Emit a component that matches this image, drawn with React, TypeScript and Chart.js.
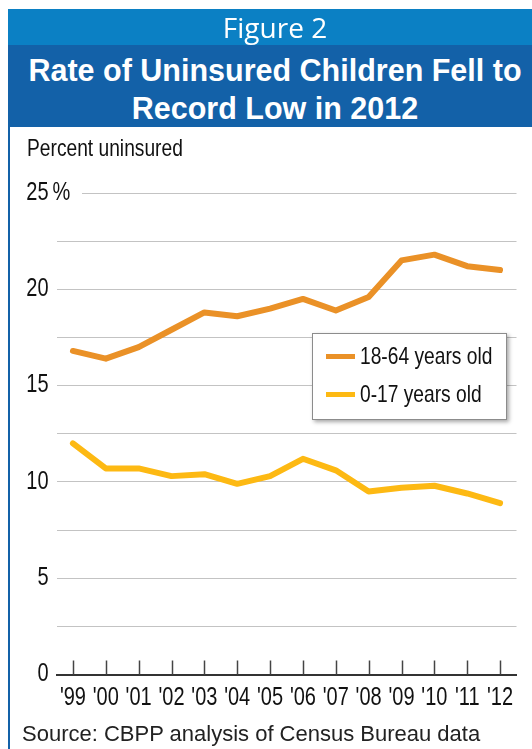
import React, { useEffect, useRef } from "react";
import { Chart, registerables } from "chart.js";

Chart.register(...registerables);

// ---------- data ----------
const years = ["'99", "'00", "'01", "'02", "'03", "'04", "'05", "'06", "'07", "'08", "'09", "'10", "'11", "'12"];
const adults = [16.8, 16.4, 17.0, 17.9, 18.8, 18.6, 19.0, 19.5, 18.9, 19.6, 21.5, 21.8, 21.2, 21.0];
const children = [12.0, 10.7, 10.7, 10.3, 10.4, 9.9, 10.3, 11.2, 10.6, 9.5, 9.7, 9.8, 9.4, 8.9];
const seriesLabels = ["18-64 years old", "0-17 years old"];
const seriesColors = ["#EA9127", "#FDB913"];
const yMin = 0;
const yMax = 25;
const yStep = 2.5;
const yLabelStep = 5;
const figureLabel = "Figure 2";
const titleLines = ["Rate of Uninsured Children Fell to", "Record Low in 2012"];
const axisTitle = "Percent uninsured";
const topTickSuffix = "%";
const sourceText = "Source: CBPP analysis of Census Bureau data";

const SANS = '"Liberation Sans", Arial, sans-serif';
const CONDENSE = 0.8;

function condensedText(ctx: CanvasRenderingContext2D, text: string, x: number, y: number, align: CanvasTextAlign) {
  ctx.save();
  ctx.translate(x, y);
  ctx.scale(CONDENSE, 1);
  ctx.textAlign = align;
  ctx.textBaseline = "middle";
  ctx.fillText(text, 0, 0);
  ctx.restore();
}

export default function App() {
  const canvasRef = useRef<HTMLCanvasElement | null>(null);

  useEffect(() => {
    const canvas = canvasRef.current;
    if (!canvas) return;

    const decor = {
      id: "decor",
      beforeDatasetsDraw(chart: any) {
        const { ctx, chartArea, scales } = chart;
        const x = scales.x;
        const y = scales.y;
        const yTop = y.getPixelForValue(yMax);
        ctx.save();
        // shorten the top grid line to leave room for the % sign
        ctx.fillStyle = "#ffffff";
        ctx.fillRect(chartArea.left - 2, yTop - 2, 82 - chartArea.left + 2, 4);
        // upward tick marks on the x axis
        ctx.strokeStyle = "#444444";
        ctx.lineWidth = 1.5;
        x.ticks.forEach((t: any) => {
          const px = Math.round(x.getPixelForValue(t.value)) + 0.5;
          ctx.beginPath();
          ctx.moveTo(px, chartArea.bottom);
          ctx.lineTo(px, chartArea.bottom - 14);
          ctx.stroke();
        });
        // condensed tick labels placed by the scales
        ctx.fillStyle = "#111111";
        ctx.font = `25px ${SANS}`;
        y.ticks.forEach((t: any) => {
          if (t.value % yLabelStep !== 0) return;
          condensedText(ctx, String(t.value), chartArea.left - 8, y.getPixelForValue(t.value), "right");
        });
        condensedText(ctx, topTickSuffix, chartArea.left - 4, yTop, "left");
        x.ticks.forEach((t: any) => {
          condensedText(ctx, x.getLabelForValue(t.value), x.getPixelForValue(t.value), chartArea.bottom + 24, "center");
        });
        ctx.restore();
      },
    };

    const chart = new Chart(canvas, {
      type: "line",
      data: {
        labels: years,
        datasets: [
          {
            label: seriesLabels[0],
            data: adults,
            borderColor: seriesColors[0],
            backgroundColor: seriesColors[0],
            borderWidth: 6,
            pointRadius: 0,
            tension: 0,
            borderCapStyle: "round",
            borderJoinStyle: "round",
          },
          {
            label: seriesLabels[1],
            data: children,
            borderColor: seriesColors[1],
            backgroundColor: seriesColors[1],
            borderWidth: 6,
            pointRadius: 0,
            tension: 0,
            borderCapStyle: "round",
            borderJoinStyle: "round",
          },
        ],
      },
      options: {
        responsive: false,
        animation: false,
        layout: { padding: { top: 193, right: 15.5, bottom: 29.5, left: 0 } },
        plugins: { legend: { display: false }, tooltip: { enabled: false } },
        scales: {
          x: {
            type: "category",
            offset: true,
            grid: { color: "rgba(0,0,0,0)", drawTicks: false },
            border: { display: true, color: "#333333", width: 2 },
            ticks: { display: false, autoSkip: false, maxRotation: 0 },
            afterFit: (s: any) => {
              s.height = 45;
            },
          },
          y: {
            min: yMin,
            max: yMax,
            grid: {
              drawTicks: false,
              color: (c: any) => (c.tick && c.tick.value === yMin ? "rgba(0,0,0,0)" : "#c3c3c3"),
              lineWidth: 1,
            },
            border: { display: false },
            ticks: { display: false, stepSize: yStep },
            afterFit: (s: any) => {
              s.width = 56.5;
            },
          },
        },
      },
      plugins: [decor],
    });

    return () => chart.destroy();
  }, []);

  const condensedStyle = {
    fontFamily: SANS,
    transform: `scaleX(${CONDENSE})`,
    transformOrigin: "left center",
    whiteSpace: "nowrap" as const,
    color: "#111",
  };

  return (
    <div
      style={{
        position: "absolute",
        left: 0,
        top: 0,
        width: 532,
        height: 749,
        overflow: "hidden",
        background: "#ffffff",
      }}
    >
      <canvas ref={canvasRef} width={532} height={749} style={{ position: "absolute", left: 0, top: 0 }} />
      {/* header */}
      <div
        style={{
          position: "absolute",
          left: 8,
          top: 9,
          width: 534,
          height: 36,
          background: "#0B80C4",
          color: "#fff",
          textAlign: "center",
          fontFamily: '"Open Sans", sans-serif',
          fontSize: 28,
          lineHeight: "36px",
        }}
      >
        {figureLabel}
      </div>
      <div
        style={{
          position: "absolute",
          left: 8,
          top: 45,
          width: 534,
          height: 82,
          background: "#1361A8",
        }}
      >
        <div
          style={{
            position: "absolute",
            left: 0,
            right: 0,
            top: 5.5,
            color: "#fff",
            textAlign: "center",
            fontFamily: SANS,
            fontWeight: "bold",
            fontSize: 30.5,
            lineHeight: "38px",
          }}
        >
          {titleLines.map((t) => (
            <div key={t}>{t}</div>
          ))}
        </div>
      </div>
      {/* left border */}
      <div style={{ position: "absolute", left: 8, top: 127, width: 2, height: 622, background: "#1361A8" }} />
      {/* axis title */}
      <div
        style={{
          ...condensedStyle,
          position: "absolute",
          left: 27,
          top: 136,
          fontSize: 24,
          lineHeight: "24px",
        }}
      >
        {axisTitle}
      </div>
      {/* legend */}
      <div
        style={{
          position: "absolute",
          left: 312,
          top: 333,
          width: 193,
          height: 85,
          border: "1px solid #8c8c8c",
          background: "#fff",
          boxShadow: "2px 2px 4px rgba(0,0,0,0.35)",
        }}
      >
        {seriesLabels.map((lab, i) => (
          <div
            key={lab}
            style={{
              position: "absolute",
              left: 0,
              top: 10 + i * 38,
              height: 24,
              width: 193,
            }}
          >
            <div
              style={{
                position: "absolute",
                left: 13,
                top: 9.5,
                width: 29,
                height: 5,
                background: seriesColors[i],
              }}
            />
            <div
              style={{
                ...condensedStyle,
                position: "absolute",
                left: 47,
                top: 0,
                fontSize: 24,
                lineHeight: "24px",
              }}
            >
              {lab}
            </div>
          </div>
        ))}
      </div>
      {/* source */}
      <div
        style={{
          position: "absolute",
          left: 22,
          top: 723,
          fontFamily: SANS,
          fontSize: 22,
          lineHeight: "22px",
          color: "#222",
          whiteSpace: "nowrap",
        }}
      >
        {sourceText}
      </div>
    </div>
  );
}
